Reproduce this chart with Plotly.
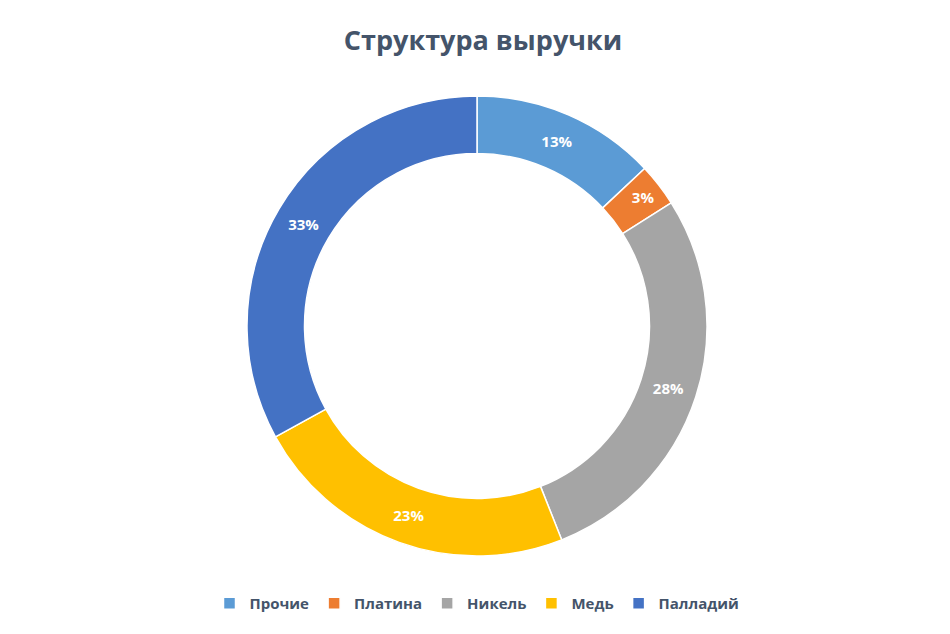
import plotly.graph_objects as go

labels = ["Прочие", "Платина", "Никель", "Медь", "Палладий"]
shares = [13, 3, 28, 23, 33]
colors = ["#5B9BD5", "#ED7D31", "#A5A5A5", "#FFC000", "#4472C4"]

fig = go.Figure()
fig.add_trace(go.Pie(
    labels=labels,
    values=shares,
    hole=0.75,
    sort=False,
    direction="clockwise",
    rotation=0,
    marker=dict(colors=colors, line=dict(color="white", width=1.5)),
    texttemplate="%{percent:.0%}",
    textposition="inside",
    insidetextorientation="horizontal",
    textfont=dict(family="Open Sans", size=15, color="white", weight="bold"),
    hoverinfo="label+percent",
))

fig.update_layout(
    width=950,
    height=634,
    paper_bgcolor="white",
    plot_bgcolor="white",
    margin=dict(l=0, r=12, t=88, b=86),
    title=dict(
        text="Структура выручки",
        x=0.5, xanchor="center",
        y=0.948, yanchor="middle",
        font=dict(family="Open Sans", size=27, color="#44546A", weight="bold"),
    ),
    showlegend=True,
    legend=dict(
        orientation="h",
        x=0.5, xanchor="center",
        y=-0.103, yanchor="middle",
        font=dict(family="Open Sans", size=15, color="#44546A", weight="bold"),
        traceorder="normal",
        itemwidth=30,
    ),
    uniformtext=dict(minsize=12, mode="show"),
)

fig.write_html("out.html")
